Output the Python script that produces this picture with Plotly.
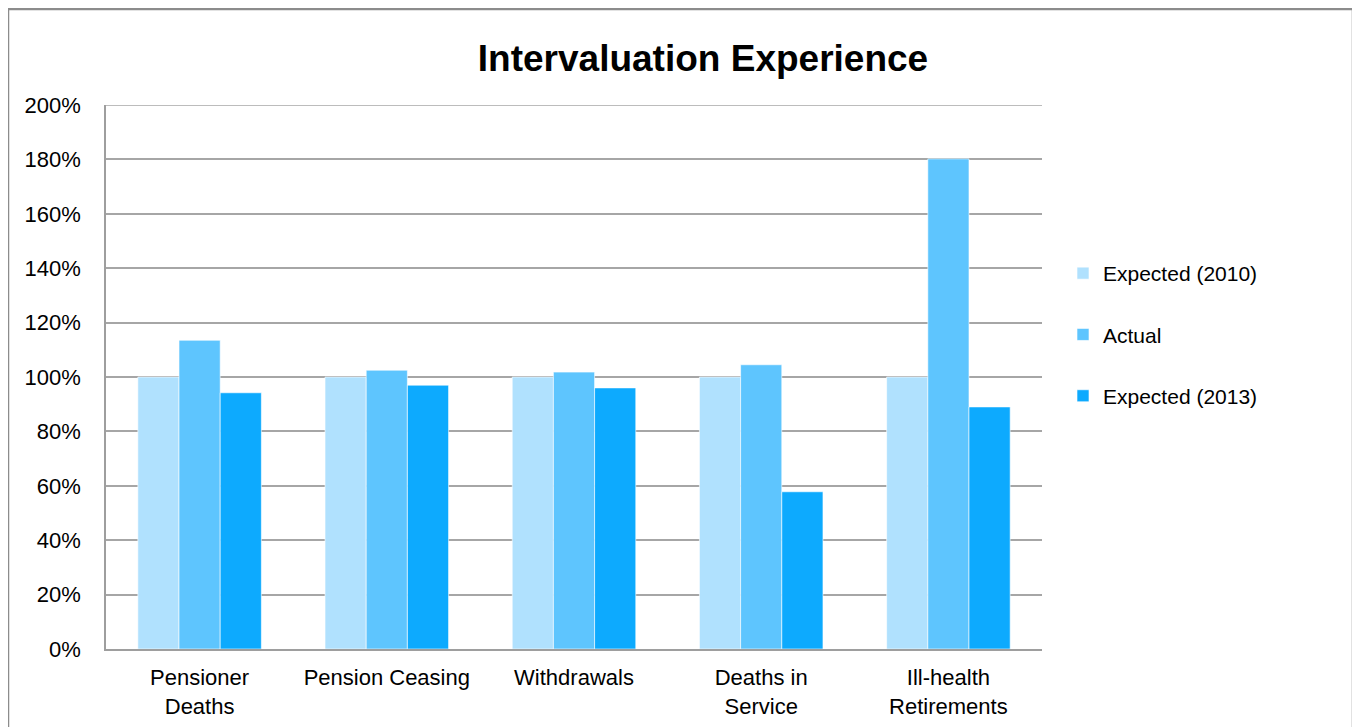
import plotly.graph_objects as go

categories = ["Pensioner<br>Deaths", "Pension Ceasing", "Withdrawals", "Deaths in<br>Service", "Ill-health<br>Retirements"]
expected_2010 = [100, 100, 100, 100, 100]
actual = [113.5, 102.5, 101.8, 104.5, 180.2]
expected_2013 = [94.2, 97.0, 96.0, 57.8, 89.0]
tick_vals = [0, 20, 40, 60, 80, 100, 120, 140, 160, 180, 200]
tick_text = [f"{v}%" for v in tick_vals]

series = [
    ("Expected (2010)", expected_2010, "#B0E1FE"),
    ("Actual", actual, "#5EC5FE"),
    ("Expected (2013)", expected_2013, "#0DAAFE"),
]

fig = go.Figure()
for i, (name, vals, col) in enumerate(series):
    fig.add_trace(go.Bar(
        x=categories, y=vals, name=name, legendgroup=f"g{i}",
        marker=dict(color=col, line=dict(color="rgba(255,255,255,0.6)", width=1)),
    ))

# page offset of 8px (body margin) -> work in figure coordinates
OFF = 8
W, H = 1360 - OFF, 727 - OFF
L, R, T, B = 106 - OFF, 1360 - 1042, 105 - OFF, 727 - 649
pw, ph = W - L - R, H - T - B

def px(x):
    return (x - OFF - L) / pw

def py(y):
    return (H - B - (y - OFF)) / ph

fig.update_layout(
    width=W, height=H,
    margin=dict(l=L, r=R, t=T, b=B, autoexpand=False),
    paper_bgcolor="white", plot_bgcolor="white",
    font=dict(family="Liberation Sans, Arial, sans-serif", size=22, color="#000000"),
    title=dict(text="<b>Intervaluation Experience</b>", x=px(703), xref="paper", xanchor="center",
               y=1 - (58 - OFF) / H, yanchor="middle", font=dict(size=37, color="#000000")),
    barmode="group", bargap=0.34, bargroupgap=0,
    showlegend=True,
    legend=dict(x=px(1063), xanchor="left", y=py(253), yanchor="top",
                font=dict(size=21), tracegroupgap=31, bgcolor="rgba(0,0,0,0)"),
    xaxis=dict(showline=True, linecolor="#9E9E9E", linewidth=1.5, ticks="", tickfont=dict(size=22),
               showgrid=False, ticklabelstandoff=8, automargin=False),
    yaxis=dict(range=[0, 200], tickvals=tick_vals, ticktext=tick_text, showgrid=True,
               gridcolor="#A6A6A6", gridwidth=1.5, showline=True, linecolor="#9E9E9E", linewidth=1.5,
               ticks="", tickfont=dict(size=22), zeroline=False, ticklabelstandoff=19, automargin=False),
    shapes=[
        dict(type="line", xref="paper", yref="y", x0=0, x1=1, y0=200, y1=200,
             line=dict(color="#A6A6A6", width=1.5)),
        dict(type="rect", xref="paper", yref="paper",
             x0=px(8), x1=px(1353), y0=py(760), y1=py(9),
             line=dict(color="#8C8C8C", width=2.5), fillcolor="rgba(0,0,0,0)", layer="below"),
    ],
)

fig.write_html("out.html")
